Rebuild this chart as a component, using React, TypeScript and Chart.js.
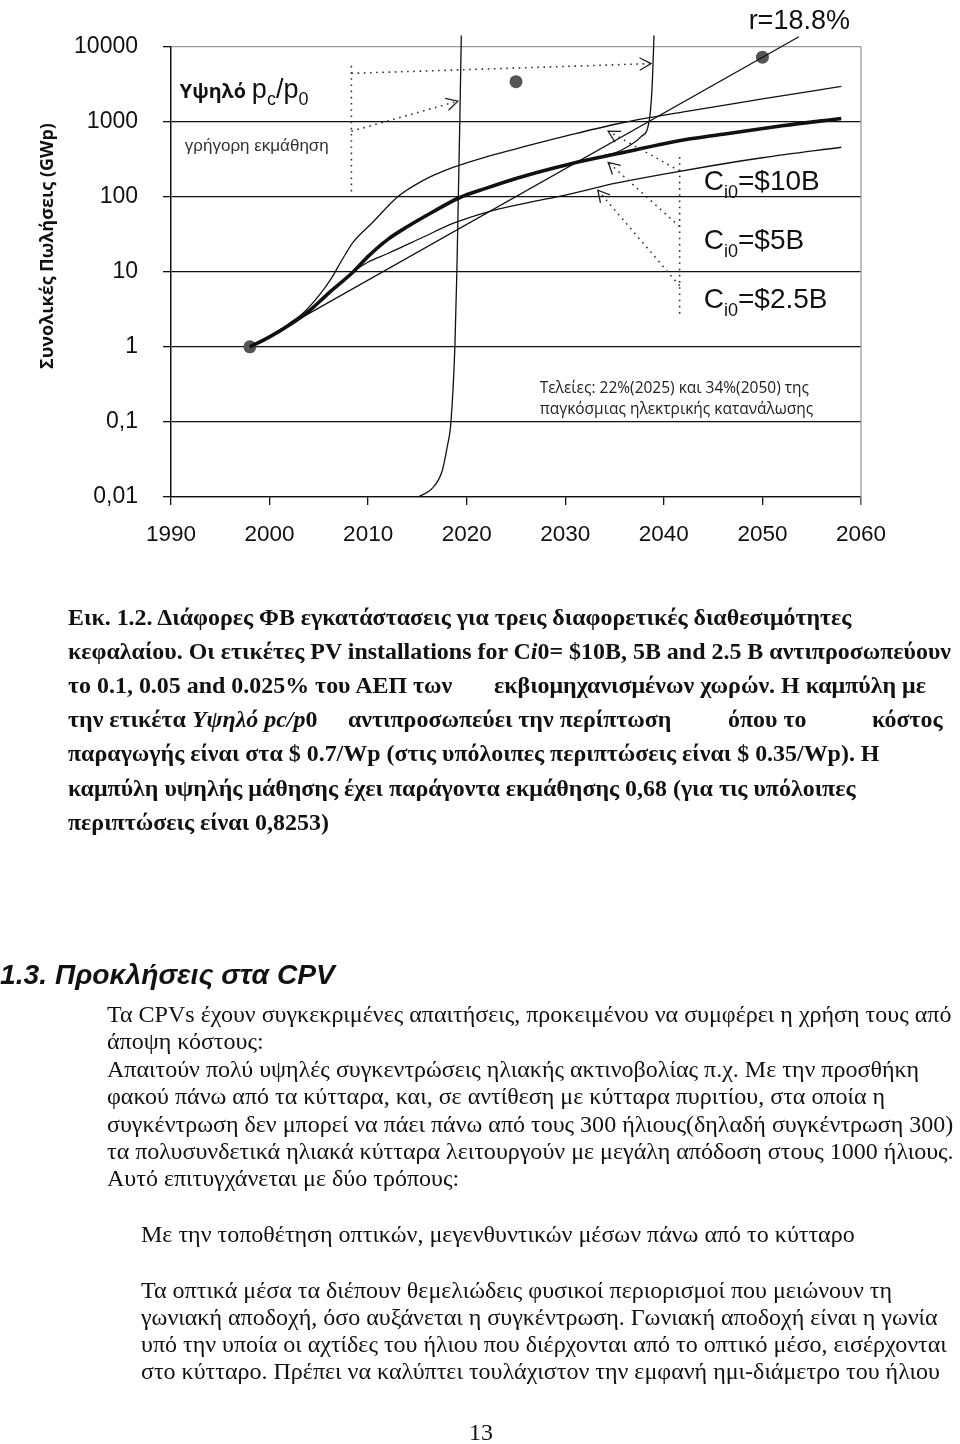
import React, { useEffect, useRef } from 'react';
import { Chart, registerables } from 'chart.js';

Chart.register(...registerables);

// ---------------- data ----------------
const xTickValues = [1990, 2000, 2010, 2020, 2030, 2040, 2050, 2060];
const yTickValues = [0.01, 0.1, 1, 10, 100, 1000, 10000];
const yTickLabels = ['0,01', '0,1', '1', '10', '100', '1000', '10000'];

// Ci0 = $10B (upper thin curve)
const upperYears = [1998, 2000, 2002, 2003.5, 2005, 2006.3, 2007.3, 2008.5, 2010.5, 2013, 2015.6, 2018.6, 2022, 2026, 2030, 2036, 2042, 2050, 2058];
const upperValues = [1, 1.38, 2.05, 2.9, 4.8, 8.3, 14, 25, 46, 100, 165, 245, 340, 470, 640, 980, 1350, 2000, 2950];

// Ci0 = $5B (thick curve)
const midYears = [1998, 2000, 2002, 2004, 2006, 2008.5, 2010, 2012, 2014, 2016.5, 2019.2, 2022, 2025, 2030.6, 2036, 2041, 2046, 2052, 2058];
const midValues = [1, 1.35, 1.95, 3.0, 5.2, 10, 16, 27, 40, 62, 96, 130, 175, 275, 390, 540, 680, 880, 1100];

// Ci0 = $2.5B (lower thin curve)
const lowerYears = [1998, 2000, 2002, 2004, 2006, 2008.5, 2010, 2012, 2015.6, 2018.6, 2022, 2026, 2030, 2035, 2040, 2045, 2050, 2058];
const lowerValues = [1, 1.35, 1.95, 3.0, 5.2, 10, 13.5, 17.5, 29, 44, 62, 82, 105, 150, 200, 260, 330, 455];

// High pc/p0, fast learning (steep curve from 2015)
const fastYears = [2015.1, 2016.5, 2017.5, 2018.0, 2018.4, 2018.8, 2019.0, 2019.15, 2019.3, 2019.45];
const fastValues = [0.01, 0.013, 0.022, 0.045, 0.1, 1, 10, 100, 1000, 14000];

// High pc/p0 branch leaving the $5B curve
const branchYears = [2034, 2035, 2036.4, 2037.7, 2038.5, 2038.8, 2039.0];
const branchValues = [355, 380, 470, 630, 1000, 2750, 14000];

// r = 18.8% exponential growth line
const rYears = [1998, 2053.7];
const rValues = [1, 13500];

// Dots: 22% (2025) and 34% (2050) of world electricity, and starting point
const dotYears = [1998, 2025, 2050];
const dotValues = [1, 3400, 7200];

// ---------------- texts ----------------
const yTitle = 'Συνολικές Πωλήσεις (GWp)';
const capitalLabels = ['$10B', '$5B', '$2.5B'];
const dotsNote = ['Τελείες: 22%(2025) και 34%(2050) της', 'παγκόσμιας ηλεκτρικής κατανάλωσης'];

const toPts = (xs: number[], ys: number[]) => xs.map((x, i) => ({ x, y: ys[i] }));

const SANS = '"Liberation Sans", Arial, sans-serif';
const CAL = '"Open Sans", "Noto Sans", sans-serif';
const SERIF = '"Liberation Serif", "Times New Roman", serif';

function arrowHead(ctx: CanvasRenderingContext2D, fx: number, fy: number, tx: number, ty: number, len = 12, ang = 0.5) {
  const a = Math.atan2(ty - fy, tx - fx);
  ctx.beginPath();
  ctx.moveTo(tx - len * Math.cos(a - ang), ty - len * Math.sin(a - ang));
  ctx.lineTo(tx, ty);
  ctx.lineTo(tx - len * Math.cos(a + ang), ty - len * Math.sin(a + ang));
  ctx.stroke();
}

const annotPlugin = {
  id: 'annot',
  afterDraw(chart: any) {
    const { ctx, chartArea, scales } = chart;
    const xs = scales.x;
    const ys = scales.y;
    const P = (a: number, b: number) => [xs.getPixelForValue(a), ys.getPixelForValue(b)];
    ctx.save();

    // right frame
    ctx.strokeStyle = '#9a9a9a';
    ctx.lineWidth = 1.3;
    ctx.beginPath();
    ctx.moveTo(chartArea.right, chartArea.top);
    ctx.lineTo(chartArea.right, chartArea.bottom + 8);
    ctx.stroke();

    // y title
    ctx.save();
    const [, tyc] = P(1990, 22);
    ctx.translate(48, tyc);
    ctx.rotate(-Math.PI / 2);
    ctx.fillStyle = '#111';
    ctx.font = 'bold 18px ' + CAL;
    ctx.textAlign = 'center';
    ctx.textBaseline = 'middle';
    ctx.fillText(yTitle, 0, 0, 248);
    ctx.restore();

    // dotted guides
    const dotted = (pts: number[][]) => {
      ctx.setLineDash([1.6, 4.6]);
      ctx.lineWidth = 1.6;
      ctx.strokeStyle = '#333';
      ctx.beginPath();
      pts.forEach(([a, b], i) => {
        const [px, py] = P(a, b);
        if (i === 0) ctx.moveTo(px, py);
        else ctx.lineTo(px, py);
      });
      ctx.stroke();
      ctx.setLineDash([]);
    };
    const arrow = (from: number[], to: number[]) => {
      dotted([from, to]);
      const [fx, fy] = P(from[0], from[1]);
      const [tx, ty] = P(to[0], to[1]);
      ctx.lineWidth = 1.3;
      ctx.strokeStyle = '#222';
      arrowHead(ctx, fx, fy, tx, ty, 13, 0.5);
    };
    // left group (high pc/p0)
    dotted([[2008.3, 5530], [2008.3, 103]]);
    arrow([2008.3, 4390], [2038.7, 5910]);
    arrow([2008.3, 744], [2019.1, 1870]);
    // right group (Ci0)
    dotted([[2041.6, 337], [2041.6, 2.6]]);
    arrow([2041.6, 220], [2034.35, 744]);
    arrow([2041.6, 40], [2034.35, 287]);
    arrow([2041.6, 6.5], [2033.3, 122]);

    ctx.fillStyle = '#111';
    ctx.textBaseline = 'alphabetic';
    ctx.textAlign = 'left';

    // Ci0 labels
    const capVals = [122, 20, 3.27];
    capitalLabels.forEach((lab, i) => {
      const [lx, ly] = P(2044.05, capVals[i]);
      ctx.font = '28px ' + SANS;
      ctx.fillText('C', lx, ly);
      let cx = lx + ctx.measureText('C').width;
      ctx.font = '18px ' + SANS;
      ctx.fillText('i0', cx, ly + 8);
      cx += ctx.measureText('i0').width;
      ctx.font = '28px ' + SANS;
      ctx.fillText('=' + lab, cx, ly);
    });

    // r label
    {
      const [lx, ly] = P(2048.6, 16900);
      ctx.font = '27px ' + SANS;
      ctx.fillText('r=18.8%', lx, ly);
    }

    // Υψηλό pc/p0
    {
      const [lx, ly] = P(1990.9, 2060);
      ctx.font = 'bold 20px ' + CAL;
      ctx.fillText('Υψηλό', lx, ly, 66);
      let cx = lx + 72;
      const big = '27px ' + SANS;
      const small = '18px ' + SANS;
      const parts: [string, string, number][] = [['p', big, 0], ['c', small, 7], ['/p', big, 0], ['0', small, 7]];
      parts.forEach(([t, f, dy]) => {
        ctx.font = f;
        ctx.fillText(t, cx, ly + dy);
        cx += ctx.measureText(t).width;
      });
    }
    // γρήγορη εκμάθηση
    {
      const [lx, ly] = P(1991.4, 411);
      ctx.fillStyle = '#333';
      ctx.font = '17px ' + SANS;
      ctx.fillText('γρήγορη εκμάθηση', lx, ly, 157);
    }
    // dots note
    {
      ctx.fillStyle = '#222';
      ctx.font = '15.5px ' + CAL;
      const [lx, ly] = P(2027.4, 0.243);
      ctx.fillText(dotsNote[0], lx, ly, 272);
      const [, ly2] = P(2027.4, 0.126);
      ctx.fillText(dotsNote[1], lx, ly2, 275);
    }
    ctx.restore();
  },
};

function ChartBlock() {
  const ref = useRef<HTMLCanvasElement | null>(null);
  useEffect(() => {
    if (!ref.current) return;
    const thin = { showLine: true, borderColor: '#111', borderWidth: 1.3, pointRadius: 0, cubicInterpolationMode: 'monotone', clip: false };
    const chart = new Chart(ref.current, {
      type: 'scatter',
      data: {
        datasets: [
          { ...thin, label: 'Ci0=$10B', data: toPts(upperYears, upperValues) },
          { ...thin, label: 'Ci0=$2.5B', data: toPts(lowerYears, lowerValues) },
          { ...thin, label: 'r=18.8%', data: toPts(rYears, rValues), cubicInterpolationMode: 'default', tension: 0 },
          { ...thin, label: 'fast', data: toPts(fastYears, fastValues) },
          { ...thin, label: 'branch', data: toPts(branchYears, branchValues) },
          { ...thin, label: 'Ci0=$5B', data: toPts(midYears, midValues), borderWidth: 3.6 },
          { label: 'dots', data: toPts(dotYears, dotValues), showLine: false, pointRadius: 6.5, pointBackgroundColor: '#555', pointBorderWidth: 0, backgroundColor: '#555', borderWidth: 0, clip: false },
        ] as any,
      },
      options: {
        animation: false,
        responsive: false,
        events: [],
        plugins: { legend: { display: false }, tooltip: { enabled: false } },
        layout: { padding: { top: 46.5, right: 99, left: 0, bottom: 0 } },
        scales: {
          x: {
            type: 'linear',
            min: 1990,
            max: 2060,
            afterBuildTicks: (s: any) => { s.ticks = xTickValues.map((v) => ({ value: v })); },
            afterFit: (s: any) => { s.height = 83; },
            grid: { drawOnChartArea: false, drawTicks: true, tickLength: 8, color: '#111', lineWidth: 1.3 },
            border: { display: true, color: '#111', width: 1.3 },
            ticks: { font: { family: SANS, size: 22.5 }, color: '#111', padding: 16, maxRotation: 0, autoSkip: false, callback: (v: any) => String(v) },
          },
          y: {
            type: 'logarithmic',
            min: 0.01,
            max: 10000,
            afterBuildTicks: (s: any) => { s.ticks = yTickValues.map((v) => ({ value: v })); },
            afterFit: (s: any) => { s.width = 171; },
            grid: {
              color: (c: any) => (c.tick && c.tick.value === 10000 ? '#9a9a9a' : '#111'),
              tickColor: '#111',
              lineWidth: 1.3,
              tickLength: 8,
              drawTicks: true,
            },
            border: { display: true, color: '#111', width: 1.5 },
            ticks: {
              font: { family: SANS, size: 23 },
              color: '#111',
              padding: 25,
              autoSkip: false,
              callback: (v: any) => {
                const i = yTickValues.findIndex((t) => Math.abs(t - v) / t < 1e-6);
                return i >= 0 ? yTickLabels[i] : '';
              },
            },
          },
        },
      } as any,
      plugins: [annotPlugin],
    });
    return () => chart.destroy();
  }, []);
  return <canvas ref={ref} width={960} height={580} style={{ position: 'absolute', left: 0, top: 0, width: 960, height: 580 }} />;
}

// ---------------- page text ----------------
function measure(text: string, font: string) {
  const c = document.createElement('canvas').getContext('2d');
  if (!c) return text.length * 10;
  c.font = font;
  return c.measureText(text).width;
}

const capLine1 = 'Εικ. 1.2. Διάφορες ΦΒ εγκατάστασεις για τρεις διαφορετικές διαθεσιμότητες';
const bodyLines1 = [
  'Τα CPVs έχουν συγκεκριμένες απαιτήσεις, προκειμένου να συμφέρει η χρήση τους από',
  'άποψη κόστους:',
  'Απαιτούν πολύ υψηλές συγκεντρώσεις ηλιακής ακτινοβολίας π.χ. Με την προσθήκη',
  'φακού πάνω από τα κύτταρα, και, σε αντίθεση με κύτταρα πυριτίου, στα οποία η',
  'συγκέντρωση δεν μπορεί να πάει πάνω από τους 300 ήλιους(δηλαδή συγκέντρωση 300)',
  'τα πολυσυνδετικά ηλιακά κύτταρα λειτουργούν με μεγάλη απόδοση στους 1000 ήλιους.',
  'Αυτό επιτυγχάνεται με δύο τρόπους:',
];
const bodyLine2 = 'Με την τοποθέτηση οπτικών, μεγενθυντικών μέσων πάνω από το  κύτταρο';
const bodyLines3 = [
  'Τα οπτικά μέσα τα διέπουν θεμελιώδεις φυσικοί περιορισμοί που μειώνουν τη',
  'γωνιακή αποδοχή, όσο αυξάνεται η συγκέντρωση. Γωνιακή αποδοχή είναι η γωνία',
  'υπό την υποία οι αχτίδες του ήλιου που διέρχονται από το οπτικό μέσο, εισέρχονται',
  'στο κύτταρο. Πρέπει να καλύπτει τουλάχιστον την εμφανή ημι-διάμετρο του ήλιου',
];
const heading = '1.3. Προκλήσεις στα CPV';

function PageText() {
  const capSize = (20 * 785) / measure(capLine1, 'bold 20px ' + SERIF);
  const bodySize = (20 * 845) / measure(bodyLines1[0], '20px ' + SERIF);
  const headSize = (24 * 335) / measure(heading, 'italic bold 24px ' + SANS);
  const capY = [0, 1, 2, 3, 4, 5, 6].map((i) => 624.5 + i * 34.2);
  const cap = { fontFamily: SERIF, fontWeight: 'bold' as const, fontSize: capSize, fill: '#111' };
  const body = { fontFamily: SERIF, fontSize: bodySize, fill: '#111' };
  const pre: any = { xmlSpace: 'preserve', style: { whiteSpace: 'pre' } };
  return (
    <svg width={960} height={1444} style={{ position: 'absolute', left: 0, top: 0 }}>
      <g {...cap} {...pre}>
        <text x={68} y={capY[0]}>{capLine1}</text>
        <text x={68} y={capY[1]}>
          <tspan>{'κεφαλαίου. Οι ετικέτες PV  installations for C'}</tspan>
          <tspan fontStyle="italic">i</tspan>
          <tspan>{'0= $10B, 5B and 2.5 B αντιπροσωπεύουν'}</tspan>
        </text>
        <text x={68} y={capY[2]}>{'το  0.1, 0.05 and 0.025% του ΑΕΠ των'}</text>
        <text x={494} y={capY[2]}>{'εκβιομηχανισμένων χωρών. Η καμπύλη με'}</text>
        <text x={68} y={capY[3]}>
          <tspan>{'την ετικέτα '}</tspan>
          <tspan fontStyle="italic">{'Υψηλό pc/p'}</tspan>
          <tspan>0</tspan>
        </text>
        <text x={348} y={capY[3]}>{'αντιπροσωπεύει την περίπτωση'}</text>
        <text x={728} y={capY[3]}>{'όπου το'}</text>
        <text x={872} y={capY[3]}>{'κόστος'}</text>
        <text x={68} y={capY[4]}>{'παραγωγής είναι στα $ 0.7/Wp (στις υπόλοιπες περιπτώσεις είναι $ 0.35/Wp). Η'}</text>
        <text x={68} y={capY[5]}>{'καμπύλη υψηλής μάθησης έχει παράγοντα εκμάθησης 0,68 (για τις υπόλοιπες'}</text>
        <text x={68} y={capY[6]}>{'περιπτώσεις είναι 0,8253)'}</text>
      </g>
      <text x={0} y={984} fontFamily={SANS} fontWeight="bold" fontStyle="italic" fontSize={headSize} fill="#111" {...pre}>{heading}</text>
      <g {...body} {...pre}>
        {bodyLines1.map((t, i) => (
          <text key={'a' + i} x={107} y={1022 + i * 27.4}>{t}</text>
        ))}
        <text x={141} y={1242}>{bodyLine2}</text>
        {bodyLines3.map((t, i) => (
          <text key={'b' + i} x={141} y={1298 + i * 27}>{t}</text>
        ))}
        <text x={481} y={1440} textAnchor="middle">13</text>
      </g>
    </svg>
  );
}

export default function App() {
  return (
    <div style={{ position: 'absolute', left: 0, top: 0, width: 960, height: 1444, background: '#fff', overflow: 'hidden' }}>
      <ChartBlock />
      <PageText />
    </div>
  );
}
